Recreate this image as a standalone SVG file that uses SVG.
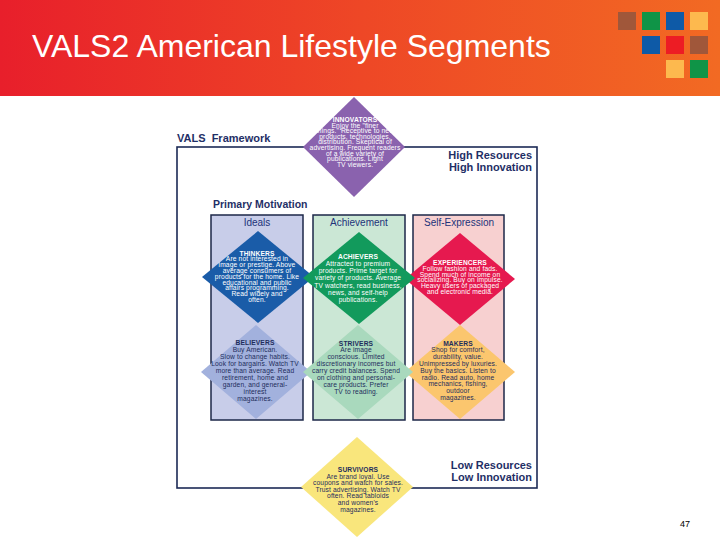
<svg xmlns="http://www.w3.org/2000/svg" width="720" height="540" viewBox="0 0 720 540">
<defs>
<linearGradient id="hdr" x1="0" y1="0" x2="1" y2="0">
<stop offset="0" stop-color="#e81f2b"/>
<stop offset="0.5" stop-color="#ee4726"/>
<stop offset="1" stop-color="#f26a23"/>
</linearGradient>
<style>
.title{font-family:"Liberation Sans",Arial,sans-serif;font-size:32px;fill:#ffffff}
.hd{font-family:"Liberation Sans",Arial,sans-serif;font-weight:bold;fill:#1f2f66}
.col{font-family:"Liberation Sans",Arial,sans-serif;font-size:10px;fill:#22337a;text-anchor:middle}
.colbox{stroke:#1c2748;stroke-width:1.5}
.frame{fill:none;stroke:#1c2a55;stroke-width:1.6}
.dt{font-family:"Liberation Sans",Arial,sans-serif;font-size:6.7px;letter-spacing:0.12px;text-anchor:middle}
.w{fill:#ffffff}
.n{fill:#1e2d5c}
.b{font-weight:bold}
.pg{font-family:"Liberation Sans",Arial,sans-serif;font-size:9px;fill:#000000;text-anchor:middle}
</style>
</defs>
<rect x="0" y="0" width="720" height="540" fill="#ffffff"/>
<g id="header">
<rect x="0" y="0" width="720" height="96" fill="url(#hdr)"/>
<text class="title" x="32" y="57">VALS2 American Lifestyle Segments</text>
<rect x="618" y="12" width="18" height="18" fill="#a0573a"/>
<rect x="642" y="12" width="18" height="18" fill="#0f9447"/>
<rect x="666" y="12" width="18" height="18" fill="#0e5aa7"/>
<rect x="690" y="12" width="18" height="18" fill="#fdb94e"/>
<rect x="642" y="36" width="18" height="18" fill="#0e5aa7"/>
<rect x="666" y="36" width="18" height="18" fill="#ed1c24"/>
<rect x="690" y="36" width="18" height="18" fill="#a0573a"/>
<rect x="666" y="60" width="18" height="18" fill="#fdb94e"/>
<rect x="690" y="60" width="18" height="18" fill="#0f9447"/>
</g>
<g id="framework">
<text class="hd" x="177" y="142" font-size="11" xml:space="preserve">VALS  Framework</text>
<rect class="frame" x="177" y="147" width="360" height="341"/>
<text class="hd" x="532" y="159" font-size="11" text-anchor="end">High Resources</text>
<text class="hd" x="532" y="171" font-size="11" text-anchor="end">High Innovation</text>
<text class="hd" x="213" y="208" font-size="10.5">Primary Motivation</text>
<text class="hd" x="532" y="469" font-size="11" text-anchor="end">Low Resources</text>
<text class="hd" x="532" y="481" font-size="11" text-anchor="end">Low Innovation</text>
</g>
<g id="col-ideals">
<rect class="colbox" x="211" y="215" width="92" height="205" fill="#c8cde9"/>
<text class="col" x="257" y="226">Ideals</text>
</g>
<g id="col-achievement">
<rect class="colbox" x="313" y="215" width="92" height="205" fill="#cbe7d5"/>
<text class="col" x="359" y="226">Achievement</text>
</g>
<g id="col-selfexpression">
<rect class="colbox" x="413" y="215" width="91" height="205" fill="#f7d0d0"/>
<text class="col" x="459" y="226">Self-Expression</text>
</g>
<g id="believers">
<polygon points="256,325 311,372 256,419 201,372" fill="#a2b1dd"/>
<text class="dt n b" x="255" y="345">BELIEVERS</text>
<text class="dt n" x="255" y="352">Buy American.</text>
<text class="dt n" x="255" y="359">Slow to change habits.</text>
<text class="dt n" x="255" y="366">Look for bargains. Watch TV</text>
<text class="dt n" x="255" y="373">more than average. Read</text>
<text class="dt n" x="255" y="380">retirement, home and</text>
<text class="dt n" x="255" y="387">garden, and general-</text>
<text class="dt n" x="255" y="394">interest</text>
<text class="dt n" x="255" y="401">magazines.</text>
</g>
<g id="makers">
<polygon points="460,325 515,372 460,419 405,372" fill="#fbc66e"/>
<text class="dt n b" x="458" y="345.5">MAKERS</text>
<text class="dt n" x="458" y="352.3">Shop for comfort,</text>
<text class="dt n" x="458" y="359.1">durability, value.</text>
<text class="dt n" x="458" y="365.9">Unimpressed by luxuries.</text>
<text class="dt n" x="458" y="372.7">Buy the basics. Listen to</text>
<text class="dt n" x="458" y="379.5">radio. Read auto, home</text>
<text class="dt n" x="458" y="386.3">mechanics, fishing,</text>
<text class="dt n" x="458" y="393.1">outdoor</text>
<text class="dt n" x="458" y="399.9">magazines.</text>
</g>
<g id="strivers">
<polygon points="358,325 413,372 358,419 303,372" fill="#a9d9bd"/>
<text class="dt n b" x="356" y="345.5">STRIVERS</text>
<text class="dt n" x="356" y="352.4">Are image</text>
<text class="dt n" x="356" y="359.4">conscious. Limited</text>
<text class="dt n" x="356" y="366.3">discretionary incomes but</text>
<text class="dt n" x="356" y="373.2">carry credit balances. Spend</text>
<text class="dt n" x="356" y="380.2">on clothing and personal-</text>
<text class="dt n" x="356" y="387.1">care products. Prefer</text>
<text class="dt n" x="356" y="394">TV to reading.</text>
</g>
<g id="thinkers">
<polygon points="258,231 314,277 258,323 202,277" fill="#1a5ca8"/>
<text class="dt w b" x="257" y="255.5">THINKERS</text>
<text class="dt w" x="257" y="261.3">Are not interested in</text>
<text class="dt w" x="257" y="267.1">image or prestige. Above</text>
<text class="dt w" x="257" y="272.9">average consumers of</text>
<text class="dt w" x="257" y="278.7">products for the home. Like</text>
<text class="dt w" x="257" y="284.5">educational and public</text>
<text class="dt w" x="257" y="290.3">affairs programming.</text>
<text class="dt w" x="257" y="296.1">Read widely and</text>
<text class="dt w" x="257" y="301.9">often.</text>
</g>
<g id="experiencers">
<polygon points="460,233 515,279 460,325 405,279" fill="#e6194f"/>
<text class="dt w b" x="460" y="265">EXPERIENCERS</text>
<text class="dt w" x="460" y="270.8">Follow fashion and fads.</text>
<text class="dt w" x="460" y="276.6">Spend much of income on</text>
<text class="dt w" x="460" y="282.4">socializing. Buy on impulse.</text>
<text class="dt w" x="460" y="288.2">Heavy users of packaged</text>
<text class="dt w" x="460" y="294">and electronic media.</text>
</g>
<g id="achievers">
<polygon points="359,232 415,278 359,324 303,278" fill="#129a5c"/>
<text class="dt w b" x="358" y="258.5" font-size="7">ACHIEVERS</text>
<text class="dt w" x="358" y="265.8" font-size="7">Attracted to premium</text>
<text class="dt w" x="358" y="273.1" font-size="7">products. Prime target for</text>
<text class="dt w" x="358" y="280.4" font-size="7">variety of products. Average</text>
<text class="dt w" x="358" y="287.7" font-size="7">TV watchers, read business,</text>
<text class="dt w" x="358" y="295" font-size="7">news, and self-help</text>
<text class="dt w" x="358" y="302.3" font-size="7">publications.</text>
</g>
<g id="innovators">
<polygon points="354,97 405,147 354,197 303,147" fill="#8a62ae"/>
<text class="dt w b" x="355" y="122">INNOVATORS</text>
<text class="dt w" x="355" y="127.6">Enjoy the "finer</text>
<text class="dt w" x="355" y="133.2">things." Receptive to new</text>
<text class="dt w" x="355" y="138.8">products, technologies,</text>
<text class="dt w" x="355" y="144.4">distribution. Skeptical of</text>
<text class="dt w" x="355" y="150">advertising. Frequent readers</text>
<text class="dt w" x="355" y="155.6">of a wide variety of</text>
<text class="dt w" x="355" y="161.2">publications. Light</text>
<text class="dt w" x="355" y="166.8">TV viewers.</text>
</g>
<g id="survivors">
<polygon points="357,437 413,487 357,537 301,487" fill="#f9e67c"/>
<text class="dt n b" x="358" y="472">SURVIVORS</text>
<text class="dt n" x="358" y="478.6">Are brand loyal. Use</text>
<text class="dt n" x="358" y="485.2">coupons and watch for sales.</text>
<text class="dt n" x="358" y="491.8">Trust advertising. Watch TV</text>
<text class="dt n" x="358" y="498.4">often. Read tabloids</text>
<text class="dt n" x="358" y="505">and women's</text>
<text class="dt n" x="358" y="511.6">magazines.</text>
</g>
<g id="connectors"></g>
<g id="page-number">
<text class="pg" x="685" y="527">47</text>
</g>
</svg>
